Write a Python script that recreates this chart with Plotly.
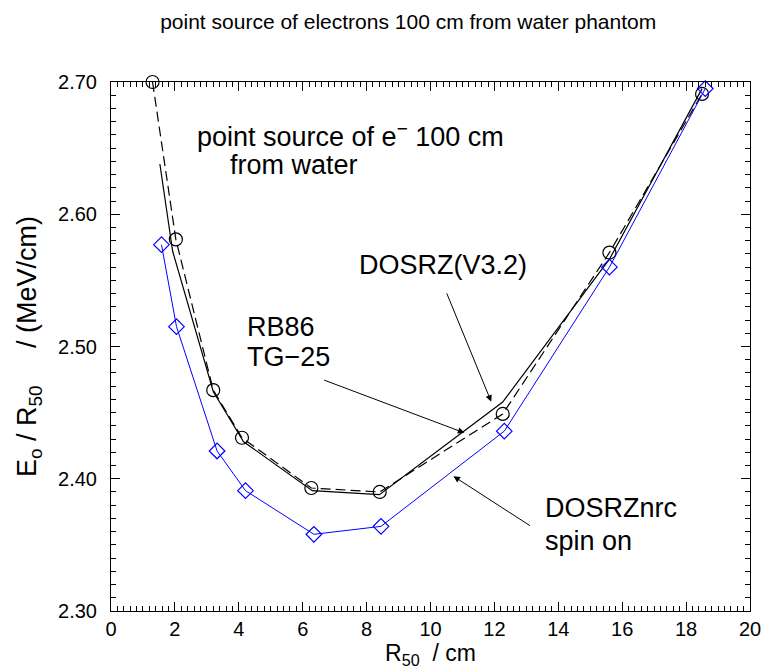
import plotly.graph_objects as go

# DOSRZ(V3.2) solid line (no markers)
solid_x = [1.53, 1.93, 3.2, 4.15, 6.3, 8.4, 12.26, 15.6, 18.5]
solid_y = [2.638, 2.572, 2.466, 2.428, 2.391, 2.388, 2.458, 2.566, 2.695]

# RB86 / TG-25 dashed line with open circles
dash_x = [1.3, 2.03, 3.2, 4.1, 6.27, 8.41, 12.26, 15.6, 18.5]
dash_y = [2.700, 2.581, 2.467, 2.431, 2.393, 2.390, 2.449, 2.571, 2.691]

# DOSRZnrc spin on (blue diamonds)
nrc_x = [1.58, 2.05, 3.32, 4.21, 6.35, 8.45, 12.31, 15.6, 18.6]
nrc_y = [2.577, 2.515, 2.421, 2.391, 2.358, 2.364, 2.436, 2.560, 2.695]

x_ticks = [0, 2, 4, 6, 8, 10, 12, 14, 16, 18, 20]
y_ticks = [2.30, 2.40, 2.50, 2.60, 2.70]
y_tick_text = ["2.30", "2.40", "2.50", "2.60", "2.70"]

FONT = "Liberation Sans, Arial, sans-serif"

fig = go.Figure()
fig.add_trace(go.Scatter(x=solid_x, y=solid_y, mode="lines",
                         line=dict(color="black", width=1.2), name="DOSRZ(V3.2)",
                         cliponaxis=False))
fig.add_trace(go.Scatter(x=dash_x, y=dash_y, mode="lines+markers",
                         line=dict(color="black", width=1.2, dash="10px,5px"),
                         marker=dict(symbol="circle-open", size=13, color="black",
                                     line=dict(width=1.2)),
                         name="RB86 TG-25", cliponaxis=False))
fig.add_trace(go.Scatter(x=nrc_x, y=nrc_y, mode="lines+markers",
                         line=dict(color="#0000ff", width=1),
                         marker=dict(symbol="diamond-open", size=12, color="#0000ff",
                                     line=dict(width=1.2)),
                         name="DOSRZnrc spin on", cliponaxis=False))

ann_font = dict(family=FONT, size=27, color="black")


def label(x, y, text, xanchor="left"):
    return dict(x=x, y=y, xref="x", yref="y", showarrow=False, xanchor=xanchor,
                yanchor="middle", text=text, font=ann_font)


def arrow(x, y, ax, ay):
    return dict(x=x, y=y, ax=ax, ay=ay, xref="x", yref="y", axref="x", ayref="y",
                text="", showarrow=True, arrowhead=2, arrowsize=1.3, arrowwidth=1,
                arrowcolor="black")


annotations = [
    label(2.63, 2.6596, "point source of e<sup>−</sup> 100 cm"),
    label(3.66, 2.637, "from water"),
    label(13.09, 2.5615, "DOSRZ(V3.2)", xanchor="right"),
    label(4.19, 2.5147, "RB86"),
    label(4.19, 2.492, "TG−25"),
    label(13.53, 2.378, "DOSRZnrc"),
    label(13.53, 2.353, "spin on"),
    arrow(11.9, 2.4583, 10.49, 2.5413),
    arrow(11.06, 2.4347, 6.625, 2.475),
    arrow(10.72, 2.4019, 13.16, 2.3638),
]

axis_common = dict(showline=True, linecolor="black", linewidth=1, mirror="ticks",
                   ticks="inside", ticklen=9, tickwidth=1, tickcolor="black",
                   showgrid=False, zeroline=False, automargin=False,
                   tickfont=dict(family=FONT, size=20, color="black"))

fig.update_layout(
    width=763, height=671,
    margin=dict(l=111, r=13, t=82, b=60, autoexpand=False),
    paper_bgcolor="white", plot_bgcolor="white",
    showlegend=False,
    title=dict(text="point source of electrons 100 cm from water phantom",
               x=0.535, xanchor="center", y=0.967, yanchor="middle", automargin=False,
               font=dict(family=FONT, size=21, color="black")),
    xaxis=dict(range=[0, 20], tickvals=x_ticks, ticklabelstandoff=0, **axis_common,
               minor=dict(dtick=0.2, ticks="inside", ticklen=5, tickcolor="black", showgrid=False),
               title=dict(text="R<sub>50</sub>  / cm", standoff=3,
                          font=dict(family=FONT, size=23, color="black"))),
    yaxis=dict(range=[2.30, 2.70], tickvals=y_ticks, ticktext=y_tick_text,
               ticklabelstandoff=9, **axis_common,
               minor=dict(dtick=0.01, ticks="inside", ticklen=5, tickcolor="black", showgrid=False),
               title=dict(text="E<sub>o</sub> / R<sub>50</sub>     / (MeV/cm)", standoff=13,
                          font=dict(family=FONT, size=27, color="black"))),
    annotations=annotations,
)

fig.write_html("out.html")
